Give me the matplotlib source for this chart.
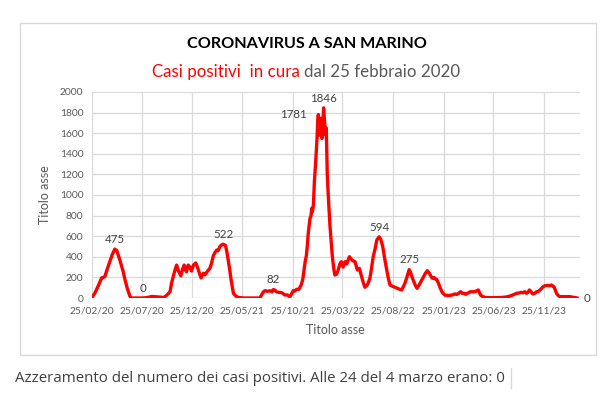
import numpy as np
import matplotlib
matplotlib.use("Agg")
import matplotlib.pyplot as plt
import matplotlib.dates as mdates
from matplotlib.patches import Rectangle

plt.rcParams['font.family'] = ['Lato', 'DejaVu Sans']

# giorni trascorsi dal 25/02/2020 e casi positivi in cura
start = np.datetime64('2020-02-25')
days = [0, 10, 20, 30, 35, 40, 48, 55, 62, 70, 76, 86, 95, 101, 108, 116, 120,
        155, 170, 181, 195, 210, 216, 225, 237, 242, 247, 252, 257, 263, 270,
        275, 280, 284, 287, 292, 297, 302, 308, 315, 320, 326, 331, 338, 343,
        348, 358, 363, 368, 373, 378, 383, 388, 393, 398, 405, 409, 413, 418,
        422, 429, 436, 444, 459, 509, 514, 520, 525, 532, 540, 546, 550, 555,
        560, 567, 575, 580, 585, 592, 600, 605, 610, 615, 620, 627, 634, 638,
        640, 643, 646, 650, 653, 655, 658, 661, 664, 666, 668, 671, 674, 678,
        682, 684, 686, 688, 691, 694, 697, 700, 702, 705, 708, 710, 713, 716,
        721, 728, 732, 736, 741, 746, 752, 756, 761, 767, 772, 780, 785, 790,
        797, 804, 810, 817, 822, 827, 835, 842, 847, 852, 858, 863, 870, 875,
        881, 887, 893, 898, 903, 910, 918, 925, 932, 938, 945, 950, 953, 958,
        961, 965, 968, 971, 975, 980, 985, 990, 995, 999, 1005, 1010, 1016,
        1022, 1028, 1031, 1036, 1040, 1044, 1050, 1054, 1060, 1065, 1069, 1077,
        1084, 1092, 1099, 1105, 1110, 1117, 1122, 1127, 1132, 1140, 1145, 1150,
        1155, 1160, 1165, 1170, 1174, 1177, 1183, 1190, 1200, 1220, 1240, 1255,
        1266, 1275, 1286, 1295, 1300, 1305, 1311, 1316, 1320, 1325, 1330, 1335,
        1341, 1347, 1352, 1357, 1362, 1367, 1372, 1380, 1387, 1392, 1396, 1399,
        1403, 1407, 1412, 1417, 1430, 1440, 1448, 1455, 1462, 1469]
casi = [0, 50, 120, 195, 200, 210, 290, 355, 420, 475, 460, 360, 260, 175, 90, 15, 0,
        0, 5, 15, 12, 8, 3, 20, 60, 150, 210, 270, 320, 260, 215,
        280, 320, 270, 255, 320, 300, 262, 320, 340, 300, 240, 195, 240, 225,
        250, 290, 340, 410, 440, 465, 460, 500, 515, 522, 510, 450, 370, 270,
        175, 45, 20, 6, 0, 0, 29, 60, 71, 65, 70, 60, 82, 75,
        58, 55, 52, 40, 29, 30, 13, 40, 71, 68, 84, 85, 126, 170,
        207, 280, 352, 417, 520, 611, 700, 774, 800, 871, 836, 900, 1129, 1323,
        1550, 1700, 1781, 1580, 1640, 1745, 1550, 1700, 1846, 1700, 1583, 1650, 1200, 1000,
        709, 417, 300, 223, 230, 272, 337, 352, 300, 353, 330, 401, 380, 362,
        353, 272, 288, 207, 150, 104, 130, 191, 290, 401, 480, 563, 594, 570,
        498, 380, 272, 190, 126, 115, 104, 95, 85, 78, 120, 160, 191, 240,
        275, 250, 220, 191, 160, 120, 94, 120, 150, 175, 210, 240, 265,
        240, 205, 191, 200, 185, 181, 140, 104, 60, 40, 29, 25,
        25, 30, 39, 35, 45, 61, 45, 45, 36, 50, 60, 61,
        60, 61, 70, 78, 50, 29, 15, 6, 3, 3, 5, 10,
        19, 30, 45, 50, 55, 50, 61, 45, 55, 78, 60, 39,
        45, 61, 65, 78, 95, 110, 120, 122, 120, 126, 115, 110,
        80, 45, 25, 13, 13, 12, 13, 8, 5, 0]

# etichette dati: giorno, valore, testo, posizione
label_days = [70, 155, 398, 550, 686, 702, 870, 963, 1469]
label_vals = [475, 0, 522, 82, 1781, 1846, 594, 275, 0]
label_text = ['475', '0', '522', '82', '1781', '1846', '594', '275', '0']
label_pos = ['above', 'above', 'above', 'above', 'left', 'above', 'above', 'above', 'right']

tick_dates = ['2020-02-25', '2020-07-25', '2020-12-25', '2021-05-25', '2021-10-25',
              '2022-03-25', '2022-08-25', '2023-01-25', '2023-06-25', '2023-11-25']
y_ticks = list(range(0, 2001, 200))

grey = '#595959'
grid_col = '#d9d9d9'

x = start + np.array(days, dtype='timedelta64[D]')

fig = plt.figure(figsize=(6.13, 3.99), dpi=100)
fig.patches.append(Rectangle((19.5 / 613, 1 - 355 / 399), 576 / 613, 332 / 399,
                             transform=fig.transFigure, fill=False,
                             edgecolor=grid_col, linewidth=1.0))

ax = fig.add_axes([91.7 / 613, 1 - 298 / 399, 488.3 / 613, 206 / 399])
ax.plot(x, casi, color='#ff0000', linewidth=2.4, solid_joinstyle='round')

ax.set_ylim(0, 2000)
ax.set_yticks(y_ticks)
ax.set_xlim(start, start + np.timedelta64(1478, 'D'))
ax.set_xticks(np.array(tick_dates, dtype='datetime64[D]'))
ax.xaxis.set_major_formatter(mdates.DateFormatter('%d/%m/%y'))
ax.grid(True, color=grid_col, linewidth=0.9)
ax.set_axisbelow(True)
for s in ax.spines.values():
    s.set_visible(False)
ax.tick_params(length=0, colors=grey, labelsize=7.4, pad=6)
ax.set_xlabel('Titolo asse', color=grey, fontsize=9, labelpad=6)
ax.set_ylabel('Titolo asse', color=grey, fontsize=9, labelpad=6)

for d, v, t, p in zip(label_days, label_vals, label_text, label_pos):
    xd = start + np.timedelta64(d, 'D')
    if p == 'above':
        ax.annotate(t, (xd, v), xytext=(0, 7), textcoords='offset points',
                    ha='center', va='center', fontsize=8.3, color='#404040')
    elif p == 'left':
        ax.annotate(t, (xd, v), xytext=(-8, 0), textcoords='offset points',
                    ha='right', va='center', fontsize=8.3, color='#404040')
    else:
        ax.annotate(t, (xd, v), xytext=(5, 0), textcoords='offset points',
                    ha='left', va='center', fontsize=8.3, color='#404040')

fig.text(307 / 613, 1 - 44 / 399, 'CORONAVIRUS A SAN MARINO', ha='center', va='center',
         fontsize=11.6, fontweight='bold', color='black')
t1 = fig.text(152 / 613, 1 - 72 / 399, 'Casi positivi  in cura ', ha='left', va='center',
              fontsize=12.2, color='#ff0000')
fig.canvas.draw()
bb = t1.get_window_extent()
fig.text(bb.x1 / fig.bbox.width, 1 - 72 / 399, 'dal 25 febbraio 2020', ha='left',
         va='center', fontsize=12.2, color='#595959')

fig.text(15 / 613, 1 - 378 / 399, 'Azzeramento del numero dei casi positivi. Alle 24 del 4 marzo erano: 0',
         ha='left', va='center', fontsize=10.85, color='#404040', family=['Open Sans', 'DejaVu Sans'])
fig.add_artist(plt.Line2D([511 / 613, 511 / 613], [1 - 388 / 399, 1 - 368 / 399],
                          color=grid_col, linewidth=1.0))

fig.savefig('out.png', dpi=100)
